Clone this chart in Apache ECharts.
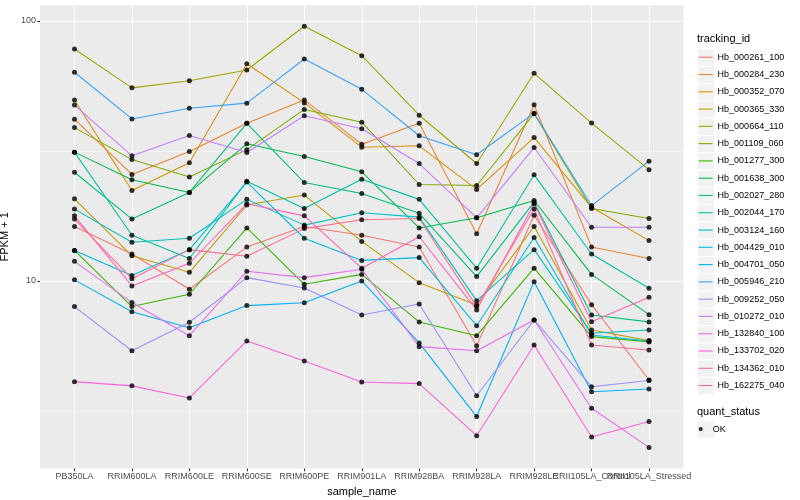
<!DOCTYPE html>
<html><head><meta charset="utf-8">
<script src="https://cdn.jsdelivr.net/npm/echarts@6/dist/echarts.min.js"></script>
<style>html,body{margin:0;padding:0;background:#fff}#c{width:800px;height:500px}</style>
</head><body><div id="c"></div>
<script>
// ---- data ----
const categories = ['PB350LA','RRIM600LA','RRIM600LE','RRIM600SE','RRIM600PE','RRIM901LA','RRIM928BA','RRIM928LA','RRIM928LE','RRII105LA_Control','RRII105LA_Stressed'];
const trackingIds = ['Hb_000261_100','Hb_000284_230','Hb_000352_070','Hb_000365_330','Hb_000664_110','Hb_001109_060','Hb_001277_300','Hb_001638_300','Hb_002027_280','Hb_002044_170','Hb_003124_160','Hb_004429_010','Hb_004701_050','Hb_005946_210','Hb_009252_050','Hb_010272_010','Hb_132840_100','Hb_133702_020','Hb_134362_010','Hb_162275_040'];
const lineColors = ['#F8766D','#EA8331','#D89000','#C09B00','#A3A500','#7CAE00','#39B600','#00BB4E','#00BF7D','#00C1A3','#00BFC4','#00BAE0','#00B0F6','#35A2FF','#9590FF','#C77CFF','#E76BF3','#FA62DB','#FF62BC','#FF6C91'];
const yMajorTicks = [10, 100];
const yMinorTicks = [3.1623, 31.623];
const quantStatus = ['OK'];

const hb_000261_100 = [16.2, 12.7, 9.29, 13.5, 16.2, 15.0, 13.5, 5.63, 17.9, 8.11, 4.16];
const hb_000284_230 = [41.9, 25.7, 31.5, 40.4, 49.7, 33.6, 40.4, 15.2, 47.6, 13.5, 12.2];
const hb_000352_070 = [49.7, 22.3, 28.5, 68.5, 48.4, 32.7, 33.1, 22.5, 35.6, 19.2, 14.3];
const hb_000365_330 = [20.7, 12.5, 10.8, 19.6, 21.4, 14.2, 9.85, 8.09, 16.2, 6.48, 5.90];
const hb_000664_110 = [78.0, 55.3, 58.9, 64.8, 95.4, 73.5, 43.4, 28.3, 62.9, 40.5, 26.8];
const hb_001109_060 = [38.9, 29.3, 25.1, 32.0, 45.7, 40.8, 23.5, 23.3, 44.0, 19.0, 17.4];
const hb_001277_300 = [13.1, 7.97, 8.89, 16.0, 9.71, 10.6, 6.96, 6.16, 11.2, 6.11, 5.83];
const hb_001638_300 = [31.3, 24.5, 21.9, 33.7, 30.1, 26.3, 16.0, 17.5, 20.4, 10.6, 7.42];
const hb_002027_280 = [26.2, 17.3, 21.9, 40.4, 23.9, 21.7, 18.2, 10.4, 20.1, 7.40, 6.96];
const hb_002044_170 = [31.3, 15.0, 12.2, 24.2, 19.0, 24.6, 20.6, 11.2, 25.6, 12.7, 9.37];
const hb_003124_160 = [18.9, 14.1, 14.6, 20.6, 16.4, 18.3, 17.6, 8.40, 13.2, 6.29, 6.48];
const hb_004429_010 = [13.1, 10.5, 13.2, 24.0, 14.6, 12.0, 12.3, 6.73, 14.7, 6.20, 5.88];
const hb_004701_050 = [10.1, 7.62, 6.61, 8.04, 8.25, 10.0, 5.78, 3.01, 9.94, 3.75, 3.84];
const hb_005946_210 = [63.5, 42.0, 46.2, 48.3, 71.4, 54.6, 36.2, 30.6, 44.2, 19.5, 28.9];
const hb_009252_050 = [7.97, 5.39, 6.94, 10.3, 9.40, 7.40, 8.16, 3.62, 7.08, 3.92, 4.14];
const hb_010272_010 = [47.5, 30.3, 36.3, 31.2, 43.2, 38.5, 28.3, 17.5, 32.6, 16.1, 16.1];
const hb_132840_100 = [11.9, 8.26, 6.16, 10.9, 10.3, 11.1, 5.59, 5.39, 7.08, 3.24, 2.29];
const hb_133702_020 = [4.10, 3.95, 3.55, 5.88, 4.92, 4.09, 4.03, 2.54, 5.67, 2.51, 2.88];
const hb_134362_010 = [17.8, 9.57, 11.7, 19.8, 17.8, 11.2, 14.8, 7.74, 19.8, 6.97, 8.66];
const hb_162275_040 = [17.3, 10.2, 13.2, 12.45, 15.9, 17.2, 17.4, 7.97, 18.9, 5.67, 5.43];

const seriesValues = [hb_000261_100, hb_000284_230, hb_000352_070, hb_000365_330, hb_000664_110, hb_001109_060, hb_001277_300, hb_001638_300, hb_002027_280, hb_002044_170, hb_003124_160, hb_004429_010, hb_004701_050, hb_005946_210, hb_009252_050, hb_010272_010, hb_132840_100, hb_133702_020, hb_134362_010, hb_162275_040];

// ---- layout / style ----
const FONT = '"Liberation Sans", Arial, Helvetica, sans-serif';
const KEY = 17.28;
const LEG_X = 697;
const LEG_TOP = 48.6;
const Q_TOP = 420.4;

const chart = echarts.init(document.getElementById('c'), null, {renderer: 'canvas'});

const lineSeries = trackingIds.map((name, i) => ({
  type: 'line', name: name, xAxisIndex: 0, yAxisIndex: 0,
  data: seriesValues[i].map((v, j) => [j, v]),
  showSymbol: false, symbol: 'none',
  lineStyle: {color: lineColors[i], width: 1.07},
  itemStyle: {color: lineColors[i]},
  emphasis: {disabled: true},
  animation: false, z: 2
}));

const pointData = [];
seriesValues.forEach(arr => arr.forEach((v, j) => pointData.push([j, v])));
const pointSeries = {
  type: 'scatter', name: quantStatus[0], data: pointData, xAxisIndex: 0, yAxisIndex: 0,
  symbol: 'circle', symbolSize: 5,
  itemStyle: {color: '#000'}, animation: false, z: 3,
  emphasis: {disabled: true}
};

const graphics = [];
trackingIds.forEach((n, i) => {
  graphics.push({type: 'rect', left: LEG_X, top: LEG_TOP + i * KEY, z: 0,
    shape: {width: KEY, height: KEY}, style: {fill: '#F2F2F2', stroke: '#fff', lineWidth: 1}});
});
graphics.push({type: 'rect', left: LEG_X, top: Q_TOP, z: 0,
  shape: {width: KEY, height: KEY}, style: {fill: '#F2F2F2', stroke: '#fff', lineWidth: 1}});
graphics.push({type: 'text', left: LEG_X, top: 33, style: {text: 'tracking_id', font: '11px ' + FONT, fill: '#000'}});
graphics.push({type: 'text', left: LEG_X, top: 406, style: {text: 'quant_status', font: '11px ' + FONT, fill: '#000'}});

// tick groups: labels overlap at the right end, so each overlapping label gets its own axis
const tickGroups = [categories.slice(0, 9).map((c, i) => i), [9], [10]];

const xAxes = tickGroups.map((vals, k) => ({
  type: 'value', min: -0.6, max: 10.6, position: 'bottom',
  axisLine: {show: false, onZero: false},
  axisTick: {show: true, length: 2.75, lineStyle: {color: '#333333', width: 1.07}, customValues: vals},
  axisLabel: {customValues: vals, formatter: v => categories[Math.round(v)], fontSize: 9, color: '#4D4D4D', margin: 4, fontFamily: FONT, hideOverlap: false},
  splitLine: {show: true, lineStyle: {color: '#FFFFFF', width: 1.07}},
  name: k === 0 ? 'sample_name' : '', nameLocation: 'middle', nameGap: 17,
  nameTextStyle: {fontSize: 11, color: '#000', fontFamily: FONT}
}));

chart.setOption({
  backgroundColor: '#fff',
  animation: false,
  grid: {left: 40, right: 116.5, top: 5.2, bottom: 31.5, show: true, backgroundColor: '#EBEBEB', borderWidth: 0, containLabel: false, outerBoundsMode: 'none'},
  xAxis: xAxes,
  yAxis: [{
    type: 'log', logBase: 10, min: 1.9, max: 115,
    axisLine: {show: false, onZero: false},
    axisTick: {show: true, length: 2.75, lineStyle: {color: '#333333', width: 1.07}, customValues: yMajorTicks},
    axisLabel: {customValues: yMajorTicks, formatter: v => String(Math.round(v)), fontSize: 9, color: '#4D4D4D', margin: 4, fontFamily: FONT},
    splitLine: {show: true, lineStyle: {color: '#FFFFFF', width: 1.07}},
    name: 'FPKM + 1', nameLocation: 'middle', nameGap: 24, nameRotate: 90,
    nameTextStyle: {fontSize: 11, color: '#000', fontFamily: FONT}
  }, {
    type: 'log', logBase: 10, min: 1.9, max: 115, position: 'left',
    axisLine: {show: false, onZero: false},
    axisTick: {show: false, customValues: yMinorTicks},
    axisLabel: {show: false, customValues: yMinorTicks},
    splitLine: {show: true, lineStyle: {color: '#FFFFFF', width: 0.53}}
  }],
  legend: [{
    orient: 'vertical', left: LEG_X + 1.6, top: LEG_TOP, itemGap: 0, padding: 0,
    itemWidth: 14, itemHeight: 1.1, icon: 'rect', selectedMode: false,
    textStyle: {fontSize: 9, color: '#000', lineHeight: KEY, fontFamily: FONT},
    data: trackingIds.map((n, i) => ({name: n, itemStyle: {color: lineColors[i]}}))
  }, {
    orient: 'vertical', left: LEG_X + 1.6, top: Q_TOP, itemGap: 0, padding: 0,
    itemWidth: 14, itemHeight: 4.2, icon: 'circle', selectedMode: false,
    textStyle: {fontSize: 9, color: '#000', lineHeight: KEY, fontFamily: FONT},
    data: [{name: quantStatus[0], itemStyle: {color: '#000'}}]
  }],
  graphic: graphics,
  series: lineSeries.concat([pointSeries])
});
</script>
</body></html>
